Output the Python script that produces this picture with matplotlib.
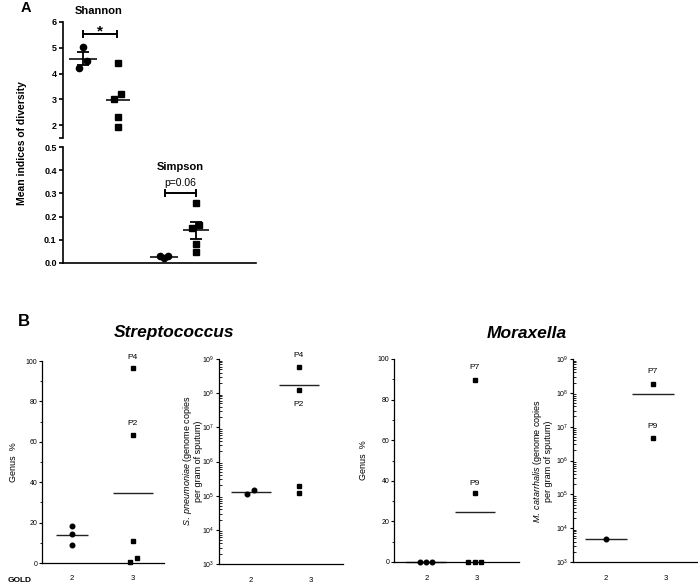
import numpy as np
import matplotlib
matplotlib.use("Agg")
import matplotlib.pyplot as plt
from matplotlib.ticker import MultipleLocator, FixedLocator, NullFormatter, LogFormatterSciNotation

plt.rcParams['font.family'] = ['Liberation Sans', 'DejaVu Sans']
plt.rcParams['mathtext.fontset'] = 'custom'
plt.rcParams['mathtext.rm'] = 'Liberation Sans'
plt.rcParams['mathtext.it'] = 'Liberation Sans:italic'
plt.rcParams['mathtext.bf'] = 'Liberation Sans:bold'

# ---------------- data ----------------
gold_labels = ["2", "3"]

shannon_gold2 = [5.03, 4.21, 4.49]
shannon_gold3 = [4.40, 3.20, 3.00, 2.31, 1.91]
simpson_gold2 = [0.032, 0.022, 0.030]
simpson_gold3 = [0.26, 0.152, 0.165, 0.083, 0.046]

strep_genus_gold2 = [18.3, 14.5, 9.1]
strep_genus_gold3 = [96.4, 63.5, 11.0, 2.6, 0.3]
strep_qpcr_gold2 = [1.1e5, 1.5e5]
strep_qpcr_gold3 = [5.8e8, 1.2e8, 1.95e5, 1.17e5]

morax_genus_gold2 = [0, 0, 0]
morax_genus_gold3 = [89.8, 34.1, 0, 0, 0]
morax_qpcr_gold2 = [4.9e3]
morax_qpcr_gold3 = [1.85e8, 4.6e6]

strep_patients = ["P4", "P2"]
morax_patients = ["P7", "P9"]

# ---------------- layout helpers (pixel geometry) ----------------
W, H = 698, 586
fig = plt.figure(figsize=(W / 100, H / 100), dpi=100)


def rect(x0, y0, x1, y1):
    return [x0 / W, 1 - y1 / H, (x1 - x0) / W, (y1 - y0) / H]


def ftext(x, y, s, **kw):
    fig.text(x / W, 1 - y / H, s, **kw)


def mean_sem(v):
    v = np.asarray(v, float)
    m = v.mean()
    s = v.std(ddof=1) / np.sqrt(len(v)) if len(v) > 1 else 0.0
    return m, s


def scatter_group(ax, cx, vals, offsets, marker, ms, half, lw, color='black', mean_color='#222222'):
    xs = [cx + o for o in offsets]
    ax.plot(xs, vals, linestyle='none', marker=marker, ms=ms, color=color,
            clip_on=False, zorder=3)
    m, _ = mean_sem(vals)
    ax.plot([cx - half, cx + half], [m, m], color=mean_color, lw=lw,
            clip_on=False, zorder=2, solid_capstyle='butt')
    return xs, m


# ================= Panel A =================
x0A, x1A = 63, 256
axT = fig.add_axes(rect(x0A, 22, x1A, 138))
axB = fig.add_axes(rect(x0A, 147, x1A, 263))
for ax in (axT, axB):
    ax.set_xlim(x0A, x1A)
    ax.patch.set_alpha(0)
    ax.spines['top'].set_visible(False)
    ax.spines['right'].set_visible(False)
    ax.spines['left'].set_linewidth(1.2)
    ax.tick_params(axis='y', length=3, width=1.2, labelsize=6.5, pad=1.5)
    ax.set_xticks([])
axT.spines['bottom'].set_visible(False)
axB.spines['bottom'].set_linewidth(1.2)

axT.set_ylim(1.5, 6)
axT.set_yticks([1.5, 2, 3, 4, 5, 6], labels=['', '2', '3', '4', '5', '6'])
axB.set_ylim(0, 0.5)
axB.set_yticks([0, 0.1, 0.2, 0.3, 0.4, 0.5],
               labels=['0.0', '0.1', '0.2', '0.3', '0.4', '0.5'])
for ax in (axT, axB):
    for lbl in ax.get_yticklabels():
        lbl.set_fontweight('bold')

# Shannon
scatter_group(axT, 83, shannon_gold2, [0, -4, 4], 'o', 4.5, 14, 1.3)
m, s = mean_sem(shannon_gold2)
axT.errorbar([83], [m], yerr=[s], fmt='none', ecolor='black', elinewidth=1.3,
             capsize=4.3, capthick=1.3, zorder=2)
scatter_group(axT, 118, shannon_gold3, [0, 3, -4, 0, 0], 's', 4.2, 12, 1.3)

# Simpson
scatter_group(axB, 164, simpson_gold2, [-4, 0, 4], 'o', 4.5, 14, 1.3)
m, s = mean_sem(simpson_gold2)
axB.errorbar([164], [m], yerr=[s], fmt='none', ecolor='black', elinewidth=1.3,
             capsize=4.3, capthick=1.3, zorder=2)
scatter_group(axB, 196, simpson_gold3, [0, -4, 3, 0, 0], 's', 4.2, 13, 1.3)
m, s = mean_sem(simpson_gold3)
axB.errorbar([196], [m], yerr=[s], fmt='none', ecolor='black', elinewidth=1.3,
             capsize=4.3, capthick=1.3, zorder=2)

# significance brackets
axT.plot([83, 117], [5.53, 5.53], color='black', lw=1.4, marker='|', ms=5.5,
         mew=1.4, clip_on=False)
axT.text(100, 5.64, '*', ha='center', va='center', fontsize=11, fontweight='bold')
axT.text(99, 6.43, 'Shannon', ha='center', va='center', fontsize=8,
         fontweight='bold', clip_on=False)
axB.plot([165, 196], [0.30, 0.30], color='black', lw=1.4, marker='|', ms=5.5,
         mew=1.4, clip_on=False)
axB.text(180, 0.345, 'p=0.06', ha='center', va='center', fontsize=7.5)
axB.text(180, 0.414, 'Simpson', ha='center', va='center', fontsize=8,
         fontweight='bold')

ftext(22, 143, 'Mean indices of diversity', rotation=90, ha='center',
      va='center', fontsize=7.5, fontweight='bold')
ftext(26, 8, 'A', ha='center', va='center', fontsize=10.5, fontweight='bold')

# ================= Panel B =================
ftext(24, 321, 'B', ha='center', va='center', fontsize=12, fontweight='bold')
ftext(174, 333, 'Streptococcus', ha='center', va='center', fontsize=12.5,
      fontweight='bold', style='italic')
ftext(527, 333, 'Moraxella', ha='center', va='center', fontsize=12.5,
      fontweight='bold', style='italic')
ftext(20, 580, 'GOLD', ha='center', va='center', fontsize=6, fontweight='bold')


def style_b(ax, xl, xr, tick_px):
    ax.set_xlim(xl, xr)
    ax.patch.set_alpha(0)
    ax.spines['top'].set_visible(False)
    ax.spines['right'].set_visible(False)
    ax.spines['left'].set_linewidth(0.9)
    ax.spines['bottom'].set_linewidth(0.9)
    ax.set_xticks(tick_px, labels=gold_labels)
    ax.tick_params(axis='x', length=0, labelsize=5.5, pad=9)
    ax.tick_params(axis='y', which='major', length=2.5, width=0.8,
                   labelsize=5, pad=0.8)
    ax.tick_params(axis='y', which='minor', length=1.8, width=0.6)


def linear_b(ax):
    ax.set_ylim(0, 100)
    ax.yaxis.set_major_locator(FixedLocator(np.arange(0, 101, 20)))
    ax.yaxis.set_minor_locator(FixedLocator(np.arange(10, 100, 20)))


def log_b(ax):
    ax.set_yscale('log')
    ax.set_ylim(1e3, 1e9)
    decades = np.arange(3, 10)
    ax.yaxis.set_major_locator(FixedLocator(10.0 ** decades))
    ax.yaxis.set_major_formatter(LogFormatterSciNotation())
    minors = [s * 10.0 ** d for d in decades[:-1] for s in range(2, 10)]
    ax.yaxis.set_minor_locator(FixedLocator(minors))
    ax.yaxis.set_minor_formatter(NullFormatter())
    ax.tick_params(axis='y', which='minor', direction='in', labelleft=False)


def label_pts(ax, xs, vals, names, dys):
    for x, v, n, dy in zip(xs, vals, names, dys):
        ax.annotate(n, (x, v), xytext=(0, dy), textcoords='offset points',
                    ha='center', va='center', fontsize=6, annotation_clip=False)


# --- B1: Streptococcus genus %
ax1 = fig.add_axes(rect(42, 361, 164, 563))
style_b(ax1, 42, 164, [72, 133])
linear_b(ax1)
scatter_group(ax1, 72, strep_genus_gold2, [0, 0, 0], 'o', 3.3, 16, 1.0)
xs, _ = scatter_group(ax1, 133, strep_genus_gold3, [0, 0, 0, 4, -3], 's', 3.2, 20, 1.0)
label_pts(ax1, xs[:2], strep_genus_gold3[:2], strep_patients, [8, 8])
ftext(13, 462, 'Genus  %', rotation=90, ha='center', va='center', fontsize=6.5)

# --- B2: S. pneumoniae qPCR
ax2 = fig.add_axes(rect(219, 359, 343, 564))
style_b(ax2, 219, 343, [251, 311])
log_b(ax2)
scatter_group(ax2, 251, strep_qpcr_gold2, [-4, 3], 'o', 3.3, 20, 1.0)
xs, _ = scatter_group(ax2, 299, strep_qpcr_gold3, [0, 0, 0, 0], 's', 3.2, 20, 1.0)
label_pts(ax2, xs[:2], strep_qpcr_gold3[:2], strep_patients, [8, -10])
ftext(192, 461, '$\\mathit{S.\\ pneumoniae}$ (genome copies\nper gram of sputum)',
      rotation=90, ha='center', va='center', fontsize=6.5, multialignment='center',
      linespacing=1.1)

# --- B3: Moraxella genus %
ax3 = fig.add_axes(rect(394, 359, 519, 562))
style_b(ax3, 394, 519, [427, 477])
linear_b(ax3)
scatter_group(ax3, 426, morax_genus_gold2, [-6, 0, 6], 'o', 3.3, 20, 1.0)
xs, _ = scatter_group(ax3, 475, morax_genus_gold3, [0, 0, -7, 0, 6], 's', 3.2, 20, 1.0)
label_pts(ax3, xs[:2], morax_genus_gold3[:2], morax_patients, [9, 7])
ftext(363, 460, 'Genus  %', rotation=90, ha='center', va='center', fontsize=6.5)

# --- B4: M. catarrhalis qPCR
ax4 = fig.add_axes(rect(573, 359, 698, 562))
style_b(ax4, 573, 698, [606, 666])
log_b(ax4)
scatter_group(ax4, 606, morax_qpcr_gold2, [0], 'o', 3.3, 21, 1.0)
xs, _ = scatter_group(ax4, 653, morax_qpcr_gold3, [0, 0], 's', 3.2, 21, 1.0)
label_pts(ax4, xs[:2], morax_qpcr_gold3[:2], morax_patients, [9, 8])
ftext(542, 461, '$\\mathit{M.\\ catarrhalis}$ (genome copies\nper gram of sputum)',
      rotation=90, ha='center', va='center', fontsize=6.5, multialignment='center',
      linespacing=1.1)

fig.savefig('out.png', dpi=100)
